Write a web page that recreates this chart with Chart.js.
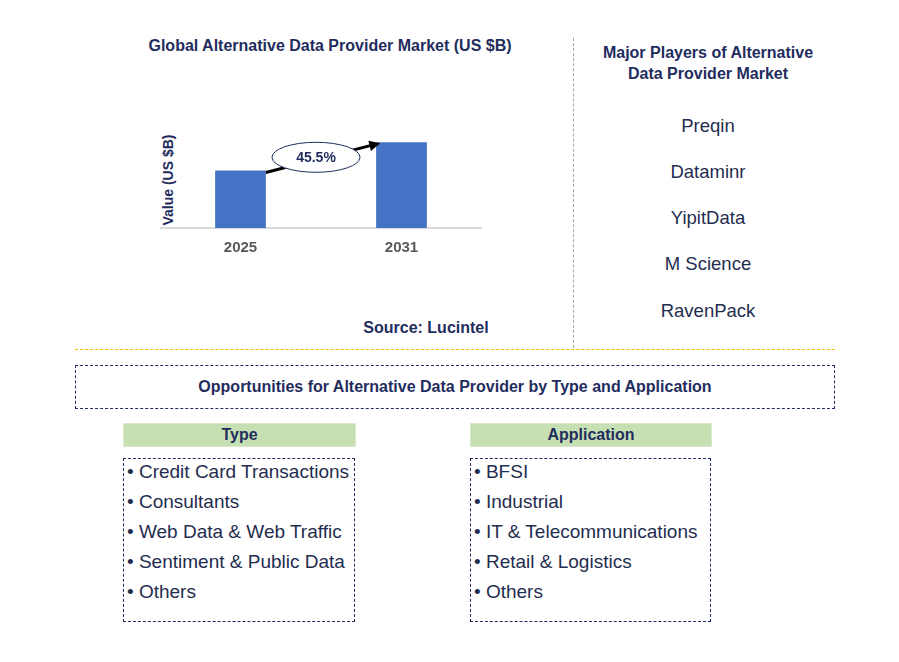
<!DOCTYPE html><html><head><meta charset="utf-8">
<script src="https://cdn.jsdelivr.net/npm/chart.js@4"></script>
<style>
body{margin:0;width:899px;height:662px;background:#fff;font-family:Arial,"Liberation Sans",sans-serif;position:relative;overflow:hidden}
.a{position:absolute}
.t{color:#1f2d5e;font-weight:bold;font-size:16px;text-align:center}
.p{color:#1f2d4f;font-size:18.5px;width:270px;left:573px;text-align:center}
.hdr{background:#c6e0b4;border:1px solid #d9e8cf;color:#1f2d5e;font-weight:bold;font-size:16px;text-align:center;line-height:22px;height:22px}
.lst{border:1px dashed #1f2d5e;font-size:19px;color:#1f2d4f;padding-top:1px;box-sizing:border-box}
.lst div{height:30px;line-height:24px;padding-left:3px}
</style></head><body>
<div class="a t" style="left:90px;width:480px;top:37px">Global Alternative Data Provider Market (US $B)</div>
<div class="a t" style="left:573px;width:270px;top:42px;line-height:21px">Major Players of Alternative<br>Data Provider Market</div>
<div class="a p" style="top:115px">Preqin</div>
<div class="a p" style="top:161px">Dataminr</div>
<div class="a p" style="top:207px">YipitData</div>
<div class="a p" style="top:253px">M Science</div>
<div class="a p" style="top:300px">RavenPack</div>
<div class="a t" style="left:326px;width:200px;top:319px">Source: Lucintel</div>
<div class="a" style="left:573px;top:38px;height:310px;border-left:1px dashed #a6a6a6"></div>
<div class="a" style="left:75px;top:349px;width:760px;border-top:1px dashed #f0c000"></div>
<div class="a" style="left:75px;top:365px;width:760px;height:44px;border:1px dashed #1f2d5e;box-sizing:border-box;line-height:42px" ><div class="t" style="line-height:42px">Opportunities for Alternative Data Provider by Type and Application</div></div>
<div class="a hdr" style="left:123px;top:423px;width:231px">Type</div>
<div class="a hdr" style="left:470px;top:423px;width:240px">Application</div>
<div class="a lst" style="left:123px;top:458px;width:232px;height:164px" id="tl"></div>
<div class="a lst" style="left:470px;top:458px;width:241px;height:164px" id="al"></div>
<div class="a" style="left:158px;top:130px;width:20px;height:100px"><div style="position:absolute;left:10px;top:50px;transform:translate(-50%,-50%) rotate(-90deg);white-space:nowrap;font-weight:bold;font-size:14px;color:#1f2d5e">Value (US $B)</div></div>
<div class="a" style="left:160px;top:120px;width:322px;height:140px"><canvas id="c"></canvas></div>
<script>
const years=['2025','2031'];
const values=[57,85];
const cagr='45.5%';
const types=['Credit Card Transactions','Consultants','Web Data & Web Traffic','Sentiment & Public Data','Others'];
const apps=['BFSI','Industrial','IT & Telecommunications','Retail & Logistics','Others'];
document.getElementById('tl').innerHTML=types.map(s=>'<div>• '+s+'</div>').join('');
document.getElementById('al').innerHTML=apps.map(s=>'<div>• '+s+'</div>').join('');
const deco={id:'deco',afterDatasetsDraw(ch){const c=ch.ctx,m=ch.getDatasetMeta(0).data;const a=m[0],b=m[1];
const x1=a.x+a.width/2,y1=a.y+2,x2=b.x-b.width/2+4,y2=b.y+1;
c.save();c.strokeStyle='#000';c.lineWidth=3;c.beginPath();c.moveTo(x1,y1);c.lineTo(x2-8,y2+2);c.stroke();
const ang=Math.atan2(y2-y1,x2-x1);c.fillStyle='#000';c.beginPath();c.moveTo(x2,y2);c.lineTo(x2-12*Math.cos(ang-0.45),y2-12*Math.sin(ang-0.45));c.lineTo(x2-12*Math.cos(ang+0.45),y2-12*Math.sin(ang+0.45));c.closePath();c.fill();
const cx=(a.x+b.x)/2-5,cy=(a.y+b.y)/2+1;c.beginPath();c.ellipse(cx,cy,44,15,0,0,Math.PI*2);c.fillStyle='#fff';c.fill();c.strokeStyle='#1f2d5e';c.lineWidth=1;c.stroke();
c.fillStyle='#1f2d5e';c.font='bold 14px Arial';c.textAlign='center';c.textBaseline='middle';c.fillText(cagr,cx,cy+1);c.restore();}};
new Chart(document.getElementById('c'),{type:'bar',data:{labels:years,datasets:[{data:values,backgroundColor:'#4472c4',categoryPercentage:1,barPercentage:0.315}]},
options:{responsive:true,maintainAspectRatio:false,animation:false,layout:{padding:{top:7,left:0,right:0,bottom:0}},
plugins:{legend:{display:false},tooltip:{enabled:false}},
scales:{y:{display:false,min:0,max:100},x:{grid:{display:false},border:{color:'#d9d9d9',width:2},ticks:{color:'#595959',font:{weight:'bold',size:15,family:'Arial'},padding:3}}}},plugins:[deco]});
</script></body></html>
